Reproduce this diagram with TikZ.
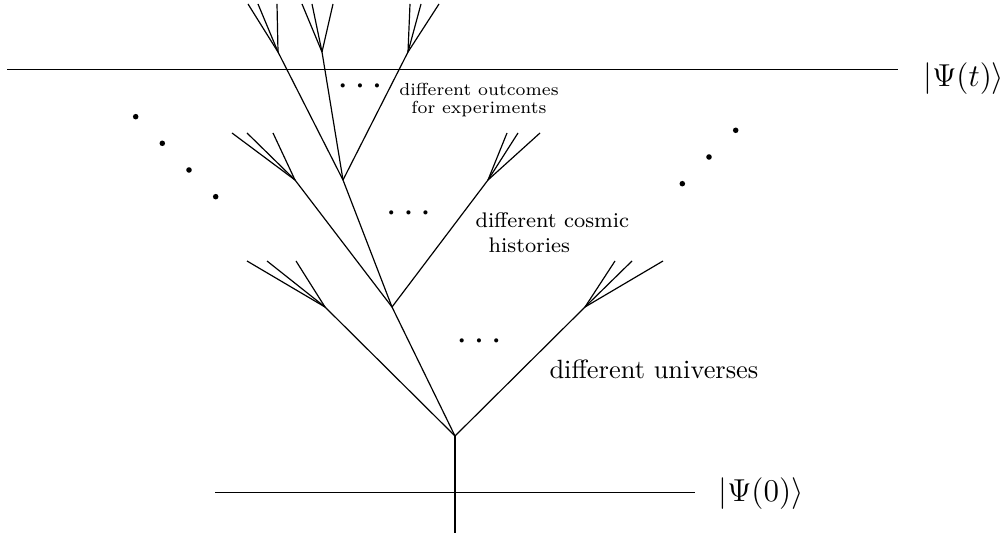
\documentclass[tikz,border=0pt]{standalone}
\usetikzlibrary{positioning}
\begin{document}
\begin{tikzpicture}[x=0.0133cm,y=-0.0133cm,
  branch/.style={line width=0.45pt},
  trunk/.style={line width=1.1pt},
  slice/.style={line width=0.5pt},
  lbl/.style={inner sep=0pt},
  dots/.style={inner sep=0pt,anchor=base,font=\boldmath}]
  \useasboundingbox (0,0) rectangle (1005,533);
  % time slices
  \coordinate (nowL) at (7,69.5);    \coordinate (nowR) at (898,69.5);
  \coordinate (startL) at (215,492.7); \coordinate (startR) at (695,492.7);
  \draw[slice] (nowL) -- (nowR);
  \draw[slice] (startL) -- (startR);
  \node[lbl,anchor=west,font=\large] (psiT) at (923,78.3) {$|\Psi(t)\rangle$};
  \node[lbl,anchor=west,font=\large] (psi0) at (718,493.4) {$|\Psi(0)\rangle$};
  % trunk and branch points
  \coordinate (seed) at (455,533); \coordinate (root) at (455,436);
  \draw[trunk] (seed) -- (root);
  \coordinate (u1) at (325,307); \coordinate (u2) at (392,307); \coordinate (u3) at (585,307);
  \coordinate (h1) at (295,180); \coordinate (h2) at (343,180); \coordinate (h3) at (488,180);
  \coordinate (o1) at (278,52);  \coordinate (o2) at (322,52);  \coordinate (o3) at (408,52);
  \foreach \u in {u1,u2,u3} \draw[branch] (root) -- (\u);
  \foreach \h in {h1,h2,h3} \draw[branch] (u2) -- (\h);
  \foreach \o in {o1,o2,o3} \draw[branch] (h2) -- (\o);
  % fans at the tips
  \foreach \b/\xs/\y in {u1/{247,267,296}/261, u3/{615,632,663}/261,
                         h1/{232,247,273}/133, h3/{507,518,540}/133,
                         o1/{248,258,277}/4, o2/{302,312,333}/4, o3/{410,421,439}/4} {
    \foreach \x [count=\i] in \xs {
      \coordinate (\b-tip\i) at (\x,\y);
      \draw[branch] (\b) -- (\b-tip\i);
    }
  }
  % labels
  \node[lbl,anchor=base west] (univ) at (549,379) {different universes};
  \node[lbl,anchor=north west,align=left,font=\footnotesize] (hist) at (475,212)
    {different cosmic\\\hspace*{5pt}histories};
  \node[lbl,anchor=north,align=center,font={\fontsize{6.6}{6.7}\selectfont}] (outc) at (479,83)
    {different outcomes\\for experiments};
  \node[dots] (univdots) at (479,347.3) {$\cdot$ $\cdot$ $\cdot$};
  \node[dots] (histdots) at (408.5,219.6) {$\cdot$ $\cdot$ $\cdot$};
  \node[dots] (outcdots) at (360,92.6) {$\cdot$ $\cdot$ $\cdot$};
  % more branches off to the sides
  \foreach \x/\y in {135.7/116.7, 162.3/143.3, 189/170, 215.7/196.7,
                     682.3/183.7, 709/157, 735.7/130.3}
    \fill (\x,\y) circle[radius=1.05pt];
\end{tikzpicture}
\end{document}
